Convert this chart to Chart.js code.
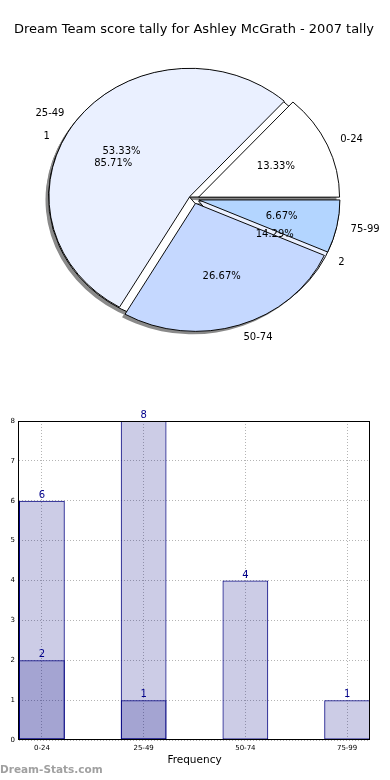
<!DOCTYPE html>
<html><head><meta charset="utf-8">
<script src="https://cdn.jsdelivr.net/npm/chart.js@4.4.1/dist/chart.umd.min.js"></script>
<style>
html,body{margin:0;padding:0;background:#fff;width:390px;height:780px;overflow:hidden;}
#pie{position:absolute;left:0;top:0;}
#bar{position:absolute;left:0;top:400px;}
</style></head><body>
<canvas id="pie" width="390" height="400"></canvas>
<canvas id="bar" width="390" height="380"></canvas>
<script>
// ---- data ----
const chartTitle = 'Dream Team score tally for Ashley McGrath - 2007 tally';
const rangeLabels = ['0-24', '25-49', '50-74', '75-99'];
const rangeCounts = [2, 8, 4, 1];
const rangeColors = ['#ffffff', '#eaf0ff', '#c5d8ff', '#b3d5ff'];
const groupLabels = ['1', '2'];
const groupCounts = [6, 1];
const groupColors = ['#ffffff', '#eaf0ff'];
const barCategories = ['0-24', '25-49', '50-74', '75-99'];
const totalFreq = [6, 8, 4, 1];
const subFreq = [2, 1, 0, 0];
const yTickValues = [0, 1, 2, 3, 4, 5, 6, 7, 8];
const xAxisTitle = 'Frequency';
const watermark = 'Dream-Stats.com';

// ---- styling ----
const FONT = "'DejaVu Sans', sans-serif";
const R = 141, SY = 0.908, EXPLODE = 5, SH_DX = -3, SH_DY = 3;
const rev = a => a.slice().reverse();

const piePlugin = {
  id: 'piecustom',
  afterDatasetsUpdate(chart) {
    const a = chart.chartArea, cx = (a.left + a.right) / 2, cy = (a.top + a.bottom) / 2;
    chart.data.datasets.forEach((ds, i) => {
      chart.getDatasetMeta(i).data.forEach(el => {
        const mid = (el.startAngle + el.endAngle) / 2;
        el.x = cx + Math.cos(mid) * EXPLODE;
        el.y = cy + Math.sin(mid) * EXPLODE;
        el.outerRadius = R;
        el.innerRadius = 0;
      });
    });
  },
  beforeDatasetsDraw(chart) {
    const ctx = chart.ctx, a = chart.chartArea, cx = (a.left + a.right) / 2, cy = (a.top + a.bottom) / 2;
    ctx.save();
    ctx.translate(cx, cy); ctx.scale(1, SY); ctx.translate(-cx, -cy);
    ctx.fillStyle = '#8a8a8a';
    for (let i = chart.data.datasets.length - 1; i >= 0; i--) {
      chart.getDatasetMeta(i).data.forEach(el => {
        const x = el.x + SH_DX, y = el.y + SH_DY / SY;
        ctx.beginPath(); ctx.moveTo(x, y);
        ctx.arc(x, y, el.outerRadius, el.startAngle, el.endAngle);
        ctx.closePath(); ctx.fill();
      });
    }
  },
  afterDatasetsDraw(chart) { chart.ctx.restore(); },
  afterDraw(chart) {
    const ctx = chart.ctx, a = chart.chartArea, cy = (a.top + a.bottom) / 2;
    ctx.save();
    ctx.fillStyle = '#000';
    ctx.font = '13px ' + FONT; ctx.textAlign = 'center'; ctx.textBaseline = 'middle';
    ctx.fillText(chartTitle, 194, 30);
    [[rangeLabels, rangeCounts, 0], [groupLabels, groupCounts, 1]].forEach(([labels, counts, di]) => {
      const meta = chart.getDatasetMeta(di), n = counts.length;
      const sum = counts.reduce((s, v) => s + v, 0);
      counts.forEach((v, k) => {
        const el = meta.data[n - 1 - k];
        const mid = (el.startAngle + el.endAngle) / 2;
        const px = f => el.x + Math.cos(mid) * R * f;
        const py = f => cy + (el.y + Math.sin(mid) * R * f - cy) * SY;
        ctx.font = '10px ' + FONT;
        ctx.textAlign = 'center';
        ctx.fillText((v / sum * 100).toFixed(2) + '%', px(0.6), py(0.6));
        ctx.textAlign = Math.cos(mid) > 0 ? 'left' : 'right';
        ctx.fillText(labels[k], px(1.1), py(1.1));
      });
    });
    ctx.restore();
  }
};

new Chart(document.getElementById('pie'), {
  type: 'pie',
  data: {
    labels: rev(rangeLabels),
    datasets: [
      { data: rev(rangeCounts), backgroundColor: rev(rangeColors), borderColor: '#000', borderWidth: 1 },
      { data: rev(groupCounts), backgroundColor: rev(groupColors), borderColor: '#000', borderWidth: 1 }
    ]
  },
  options: {
    responsive: false, animation: false, devicePixelRatio: 1, rotation: 90,
    layout: { padding: { left: 0, right: 2, top: 0, bottom: 2 } },
    plugins: { legend: { display: false }, tooltip: { enabled: false } }
  },
  plugins: [piePlugin]
});

// ---- bar chart ----
const barPlugin = {
  id: 'barcustom',
  afterDatasetsDraw(chart) {
    const ctx = chart.ctx;
    ctx.save();
    ctx.font = '10px ' + FONT; ctx.fillStyle = '#00008b';
    ctx.textAlign = 'center'; ctx.textBaseline = 'alphabetic';
    [subFreq, totalFreq].forEach((vals, di) => {
      chart.getDatasetMeta(di).data.forEach((el, i) => {
        if (vals[i] > 0) ctx.fillText(String(vals[i]), el.x, el.y - 3);
      });
    });
    ctx.restore();
  },
  afterDraw(chart) {
    const ctx = chart.ctx, a = chart.chartArea;
    ctx.save();
    ctx.strokeStyle = '#000'; ctx.lineWidth = 1;
    ctx.strokeRect(Math.round(a.left) - 0.5, Math.round(a.top) + 0.5, Math.round(a.right - a.left), Math.round(a.bottom - a.top) - 1);
    ctx.font = 'bold 10.5px ' + FONT; ctx.fillStyle = '#a0a0a0';
    ctx.textAlign = 'left'; ctx.textBaseline = 'middle';
    ctx.fillText(watermark, 0, 370);
    ctx.restore();
  }
};

const barStyle = { backgroundColor: 'rgba(0,0,128,0.2)', borderColor: '#000080', borderWidth: 1,
  grouped: false, barPercentage: 0.45, categoryPercentage: 1, borderSkipped: false };

new Chart(document.getElementById('bar'), {
  type: 'bar',
  data: {
    datasets: [
      Object.assign({ data: subFreq.map((v, i) => ({ x: i, y: v })) }, barStyle),
      Object.assign({ data: totalFreq.map((v, i) => ({ x: i, y: v })) }, barStyle)
    ]
  },
  options: {
    responsive: false, animation: false, devicePixelRatio: 1,
    layout: { padding: { top: 21, right: 20, left: 0, bottom: 0 } },
    plugins: { legend: { display: false }, tooltip: { enabled: false } },
    scales: {
      x: {
        type: 'linear', min: -0.225, max: 3.225, offset: false,
        afterBuildTicks: s => { s.ticks = barCategories.map((c, i) => ({ value: i })); },
        afterFit: s => { s.height = 40; },
        ticks: { callback: v => barCategories[v] ?? '', font: { family: FONT, size: 7 }, color: '#000', padding: 4, autoSkip: false, maxRotation: 0 },
        grid: { color: '#b4b4b4', drawTicks: false, offset: false },
        border: { display: false, dash: [1, 2] },
        title: { display: true, text: xAxisTitle, font: { family: FONT, size: 10.5 }, color: '#000', padding: { top: 0, bottom: 13 } }
      },
      y: {
        min: 0, max: 8,
        afterBuildTicks: s => { s.ticks = yTickValues.map(v => ({ value: v })); },
        afterFit: s => { s.width = 19; },
        ticks: { font: { family: FONT, size: 7 }, color: '#000', padding: 4 },
        grid: { color: '#b4b4b4', drawTicks: false },
        border: { display: false, dash: [1, 2] }
      }
    }
  },
  plugins: [barPlugin]
});
</script>
</body></html>
